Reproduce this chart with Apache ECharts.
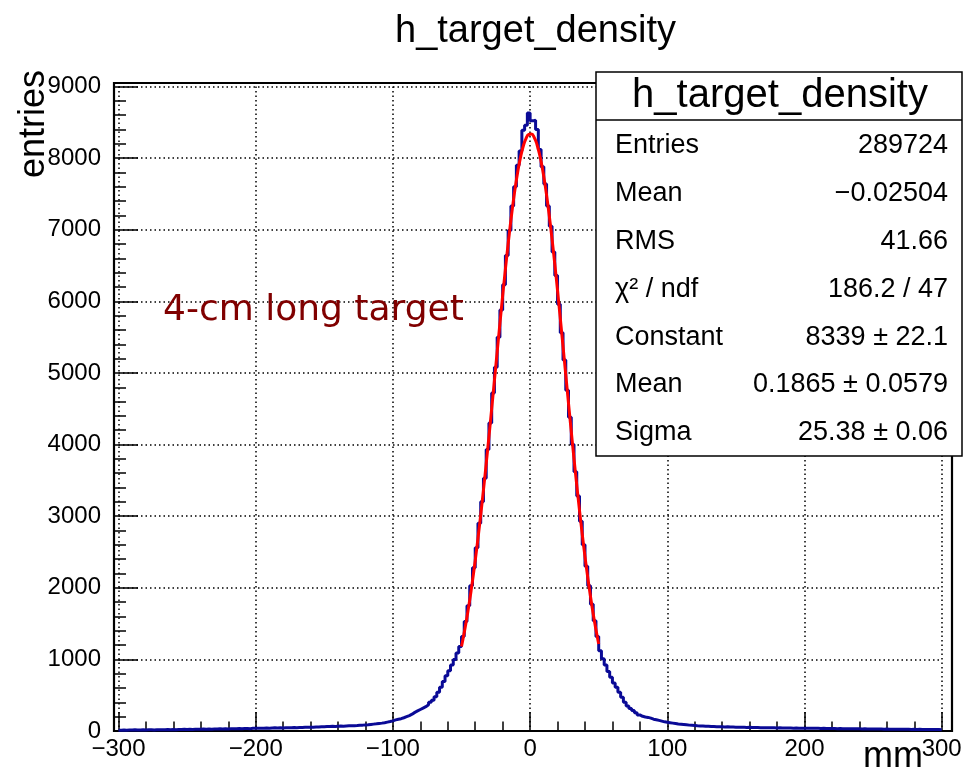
<!DOCTYPE html>
<html><head><meta charset="utf-8">
<script src="https://cdn.jsdelivr.net/npm/echarts@6/dist/echarts.min.js"></script>
<style>html,body{margin:0;padding:0;background:#fff}#c{width:966px;height:772px}</style>
</head><body><div id="c"></div>
<script>
// ---- data ----
const binStart = -300;
const binWidth = 2;
const counts = [
  // -299 .. -251
  12,14,11,15,13,16,14,15,17,14,16,18,15,17,19,18,16,20,19,21,18,22,20,23,21,
  // -249 .. -201
  24,22,25,26,23,27,25,28,26,29,27,30,28,31,29,32,30,33,35,32,34,36,33,37,38,
  // -199 .. -151
  38,40,37,41,39,42,44,41,45,43,46,44,47,49,46,50,48,52,51,54,53,56,55,58,60,
  // -149 .. -101
  62,63,65,64,67,69,68,71,73,72,75,77,80,82,85,88,92,96,100,105,110,116,124,132,142,
  // -99 .. -51
  155,165,172,185,200,215,235,260,280,300,320,340,365,400,430,480,540,610,690,770,840,920,1000,1090,1180,
  // -49 .. -1
  1320,1530,1750,2030,2280,2560,2900,3200,3530,3930,4300,4720,5080,5500,5880,6230,6640,6990,7330,7600,7900,8100,8390,8460,8630,
  // 1 .. 49
  8520,8530,8400,8120,7880,7640,7330,7050,6690,6360,5960,5560,5180,4760,4380,4000,3620,3280,2930,2600,2300,2030,1770,1540,1320,
  // 51 .. 99
  1120,1010,920,830,750,670,610,540,470,400,350,315,285,255,225,205,195,190,180,165,158,148,138,128,122,
  // 101 .. 149
  116,110,104,98,94,90,86,82,79,76,73,71,69,67,66,64,63,61,60,59,57,58,56,55,54,
  // 151 .. 199
  53,52,52,50,51,49,48,49,47,46,47,45,44,45,43,44,42,43,41,42,40,41,39,40,40,
  // 201 .. 249
  39,38,39,37,38,36,37,35,36,34,35,33,34,32,33,32,31,32,30,31,29,30,29,28,29,
  // 251 .. 299
  28,27,28,26,27,25,26,25,24,25,23,24,23,22,24,22,23,21,22,21,22,20,21,20,19
];
const fitX = [-50,-49,-47,-45,-43,-41,-39,-37,-35,-33,-31,-29,-27,-25,-23,-21,-19,-17,-15,-13,-11,-9,-7,-5,-3,-1,
              1,3,5,7,9,11,13,15,17,19,21,23,25,27,29,31,33,35,37,39,41,43,45,47,49,50];
const fitY = [1180,1275,1480,1709,1960,2235,2532,2850,3189,3546,3919,4304,4697,5096,5494,5885,6265,6630,6971,7286,7567,7810,8011,8166,8273,8330,
              8335,8288,8191,8044,7851,7616,7342,7034,6697,6337,5958,5568,5172,4773,4378,3992,3616,3256,2913,2590,2289,2011,1755,1522,1312,1215];
const xTickStep = 100;
const yTickStep = 1000;
const chartTitle = 'h_target_density';
const xTitle = 'mm';
const yTitle = 'entries';
const note = '4-cm long target';
const statLabels = ['Entries','Mean','RMS','\u03c7\u00b2 / ndf','Constant','Mean','Sigma'];
const statValues = ['289724','\u22120.02504','41.66','186.2 / 47','8339 \u00b1 22.1','0.1865 \u00b1 0.0579','25.38 \u00b1 0.06'];

// ---- build ----
const FONT = "'Liberation Sans', Arial, Helvetica, sans-serif";
const histPts = counts.map((c, i) => [binStart + i * binWidth, c]);
histPts.push([binStart + counts.length * binWidth, counts[counts.length - 1]]);
const fitPts = fitX.map((x, i) => [x, fitY[i]]);
const fmt = v => (v < 0 ? '\u2212' + (-v) : String(v));
const dotted = { color: '#000', width: 1.5, type: [1.5, 3] };

const statGraphics = [];
statGraphics.push({ type: 'rect', shape: { x: 596, y: 72, width: 366, height: 384 },
  style: { fill: '#fff', stroke: '#000', lineWidth: 1.5 }, z: 100 });
statGraphics.push({ type: 'line', shape: { x1: 596, y1: 120, x2: 962, y2: 120 },
  style: { stroke: '#000', lineWidth: 1.5 }, z: 101 });
statGraphics.push({ type: 'text', x: 780, y: 96, z: 102,
  style: { text: chartTitle, fontSize: 40, fontFamily: FONT, fill: '#000',
    align: 'center', textAlign: 'center', verticalAlign: 'middle', textVerticalAlign: 'middle' } });
statLabels.forEach((lab, i) => {
  const y = 146 + 47.8 * i;
  statGraphics.push({ type: 'text', x: 615, y: y, z: 102,
    style: { text: lab, fontSize: 27, fontFamily: FONT, fill: '#000',
      align: 'left', textAlign: 'left', verticalAlign: 'middle', textVerticalAlign: 'middle' } });
  statGraphics.push({ type: 'text', x: 948, y: y, z: 102,
    style: { text: statValues[i], fontSize: 27, fontFamily: FONT, fill: '#000',
      align: 'right', textAlign: 'right', verticalAlign: 'middle', textVerticalAlign: 'middle' } });
});

const chart = echarts.init(document.getElementById('c'), null, { renderer: 'canvas' });
chart.setOption({
  animation: false,
  backgroundColor: '#fff',
  title: { text: chartTitle, left: 390, top: 8,
    textStyle: { fontSize: 38, fontWeight: 'normal', fontFamily: FONT, color: '#000' } },
  grid: [
    { left: 118.5, right: 24.3, top: 86.5, bottom: 41, show: false },
    { left: 114, right: 14, top: 83, bottom: 41, show: true, borderColor: '#000', borderWidth: 2.2, backgroundColor: 'transparent' }
  ],
  xAxis: [
    { type: 'value', gridIndex: 0, min: -300, max: 300, interval: xTickStep,
      axisLine: { show: true, onZero: false, lineStyle: { color: '#000', width: 2.2 } },
      axisTick: { show: true, inside: true, length: 19, lineStyle: { color: '#000', width: 1.5 } },
      minorTick: { show: true, splitNumber: 5, length: 9.5, lineStyle: { color: '#000', width: 1.5 } },
      axisLabel: { formatter: fmt, fontSize: 24, fontFamily: FONT, color: '#000', margin: 6 },
      splitLine: { show: true, lineStyle: dotted } },
    { type: 'value', gridIndex: 1, show: false, min: 0, max: 1 }
  ],
  yAxis: [
    { type: 'value', gridIndex: 0, min: 0, max: 9000, interval: yTickStep, offset: 4.5,
      axisLine: { show: false, onZero: false },
      axisTick: { show: true, inside: true, length: 24, lineStyle: { color: '#000', width: 1.5 } },
      minorTick: { show: true, splitNumber: 5, length: 12, lineStyle: { color: '#000', width: 1.5 } },
      axisLabel: { formatter: fmt, fontSize: 24, fontFamily: FONT, color: '#000', margin: 13 },
      splitLine: { show: true, lineStyle: dotted } },
    { type: 'value', gridIndex: 1, show: false, min: 0, max: 1 }
  ],
  series: [
    { name: 'h_target_density', type: 'line', step: 'end', data: histPts, xAxisIndex: 0, yAxisIndex: 0,
      showSymbol: false, symbol: 'none', lineStyle: { color: '#0a0a96', width: 3 }, z: 5 },
    { name: 'gaus fit', type: 'line', smooth: true, data: fitPts, xAxisIndex: 0, yAxisIndex: 0,
      showSymbol: false, symbol: 'none', lineStyle: { color: '#ff0000', width: 3 }, z: 6 }
  ],
  graphic: [
    { type: 'text', x: 34, y: 70, rotation: Math.PI / 2, z: 50,
      style: { text: yTitle, fontSize: 36, fontFamily: FONT, fill: '#000',
        align: 'right', textAlign: 'right', verticalAlign: 'middle', textVerticalAlign: 'middle' } },
    { type: 'text', x: 923, y: 757, z: 50,
      style: { text: xTitle, fontSize: 36, fontFamily: FONT, fill: '#000',
        align: 'right', textAlign: 'right', verticalAlign: 'middle', textVerticalAlign: 'middle' } },
    { type: 'text', x: 163, y: 311, z: 50,
      style: { text: note, fontSize: 36, fontFamily: "'DejaVu Sans', sans-serif", fill: '#800000',
        align: 'left', textAlign: 'left', verticalAlign: 'middle', textVerticalAlign: 'middle' } }
  ].concat(statGraphics)
});
</script>
</body></html>
